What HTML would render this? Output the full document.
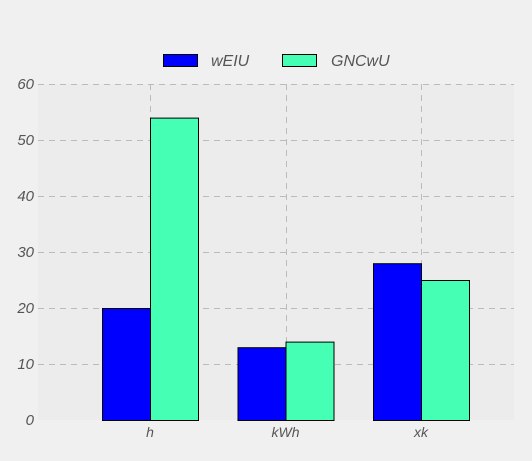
<!DOCTYPE html>
<html><head><meta charset="utf-8"><style>
body{margin:0;background:#f0f0f0;}
svg text{font-family:"Liberation Sans",sans-serif;font-style:italic;fill:#555;}
</style></head><body>
<svg width="532" height="456" xmlns="http://www.w3.org/2000/svg">
<rect x="0" y="0" width="532" height="456" fill="#f0f0f0"/>
<rect x="38" y="84" width="476" height="336" fill="#ececec"/>
<g id="grid"></g>
<g id="bars"></g>
<g id="axes"></g>
<g>
<rect x="163.5" y="54.5" width="34" height="12" fill="#0000ff" stroke="#000"/>
<text x="211" y="66" font-size="16">wEIU</text>
<rect x="282.5" y="54.5" width="34" height="12" fill="#44ffb4" stroke="#000"/>
<text x="331" y="66" font-size="16">GNCwU</text>
</g>
</svg>
<script>
const categories=["h","kWh","xk"];
const seriesWEIU=[20,13,28];
const seriesGNCwU=[54,14,25];
const yTicks=[0,10,20,30,40,50,60];
const NS="http://www.w3.org/2000/svg";
function y(v){return 420-v*(336/60);}
function x(i){return 150+i*135.5;}
const bw=48;
function mk(t,a,p){const e=document.createElementNS(NS,t);for(const k in a)e.setAttribute(k,a[k]);p.appendChild(e);return e;}
const grid=document.getElementById('grid'),bars=document.getElementById('bars'),axes=document.getElementById('axes');
yTicks.forEach(v=>{
  if(v>0){const l=mk('line',{x1:38,x2:514,y1:y(v)+0.5,y2:y(v)+0.5,stroke:'#bbb','stroke-dasharray':'6,5'},grid);
  
  }
  const t=mk('text',{x:34,y:y(v)+5,'text-anchor':'end','font-size':'15'},axes);t.textContent=v;
  
  
});
categories.forEach((c,i)=>{
  const l=mk('line',{x1:Math.round(x(i))+0.5,x2:Math.round(x(i))+0.5,y1:84,y2:420,stroke:'#bbb','stroke-dasharray':'6,5'},grid);
  
  
  const b1=mk('rect',{x:x(i)-bw+0.5,y:y(seriesWEIU[i])+0.5,width:bw,height:420-y(seriesWEIU[i]),fill:'#0000ff',stroke:'#000'},bars);
  
  
  const b2=mk('rect',{x:x(i)+0.5,y:y(seriesGNCwU[i])+0.5,width:bw,height:420-y(seriesGNCwU[i]),fill:'#44ffb4',stroke:'#000'},bars);
  
  
  const t=mk('text',{x:x(i),y:437,'text-anchor':'middle','font-size':'14'},axes);t.textContent=c;
  
  
});
</script>
</body></html>
